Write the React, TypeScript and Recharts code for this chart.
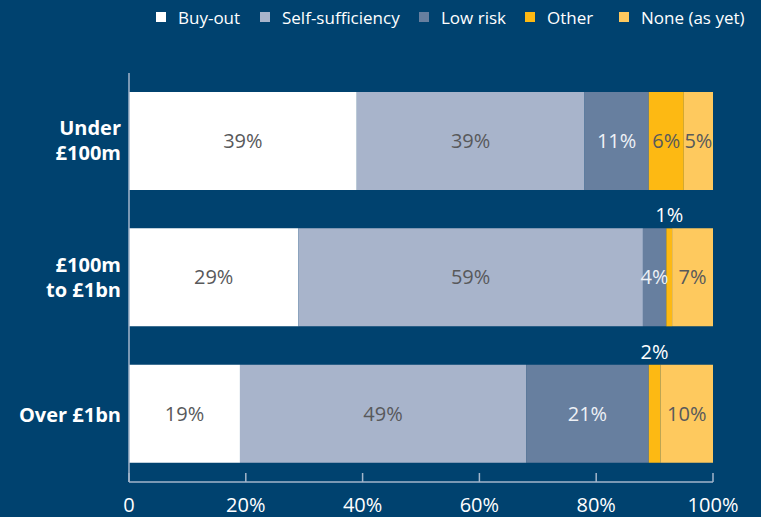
import React from "react";
import { BarChart, Bar, XAxis, YAxis, LabelList } from "recharts";

const categories = ["Under £100m", "£100m to £1bn", "Over £1bn"];
const categoryLines = [["Under", "£100m"], ["£100m", "to £1bn"], ["Over £1bn"]];
const seriesNames = ["Buy-out", "Self-sufficiency", "Low risk", "Other", "None (as yet)"];
const buyOut = [39, 29, 19];
const selfSufficiency = [39, 59, 49];
const lowRisk = [11, 4, 21];
const other = [6, 1, 2];
const noneYet = [5, 7, 10];
const xTicks = [0, 20, 40, 60, 80, 100];

const keys = ["buyOut", "selfSufficiency", "lowRisk", "other", "noneYet"];
const colors = ["#ffffff", "#a8b4cb", "#677f9f", "#fdb913", "#fec95e"];
const labelColors = ["#58595b", "#58595b", "#eef1f6", "#58595b", "#58595b"];

const data = categories.map((name, i) => ({
  name,
  buyOut: buyOut[i],
  selfSufficiency: selfSufficiency[i],
  lowRisk: lowRisk[i],
  other: other[i],
  noneYet: noneYet[i],
}));

const BG = "#00426f";
const AXIS = "#a3b6cb";
const FONT = "'Open Sans', sans-serif";

const makeLabel = (seriesIdx: number) => (props: any) => {
  const { x, y, width, height, value, index } = props;
  if (value == null) return null;
  const cx = Number(x) + Number(width) / 2;
  const isOtherSmall = seriesIdx === 3 && index > 0;
  if (isOtherSmall) {
    return (
      <text x={cx} y={Number(y) - 6} textAnchor="middle" fill="#ffffff" fontSize={20} fontFamily={FONT}>
        {value}%
      </text>
    );
  }
  return (
    <text
      x={cx}
      y={Number(y) + Number(height) / 2 + 7}
      textAnchor="middle"
      fill={labelColors[seriesIdx]}
      fontSize={20}
      fontFamily={FONT}
    >
      {value}%
    </text>
  );
};

const YTick = (props: any) => {
  const { x, y, index } = props;
  const lines = categoryLines[index] || [String(props.payload?.value)];
  const startDy = lines.length === 1 ? 8 : -6;
  return (
    <text x={x} y={y} textAnchor="end" fill="#ffffff" fontSize={20} fontWeight={700} fontFamily={FONT}>
      {lines.map((l, i) => (
        <tspan key={i} x={x} y={y + startDy + i * 25}>
          {l}
        </tspan>
      ))}
    </text>
  );
};

const legendX = [156, 260, 419, 525, 619];

export default function App() {
  return (
    <div style={{ position: "fixed", left: 0, top: 0, width: 761, height: 517, background: BG, overflow: "hidden" }}>
      {seriesNames.map((n, i) => (
        <div
          key={n}
          style={{
            position: "absolute",
            left: legendX[i],
            top: 4,
            height: 26,
            display: "flex",
            alignItems: "center",
            fontFamily: FONT,
            fontSize: 17,
            color: "#ffffff",
            whiteSpace: "nowrap",
          }}
        >
          <span style={{ display: "inline-block", width: 10, height: 10, background: colors[i], marginRight: 12 }} />
          <span>{n}</span>
        </div>
      ))}
      <div style={{ position: "absolute", left: 0, top: 0 }}>
        <BarChart
          width={761}
          height={517}
          data={data}
          layout="vertical"
          margin={{ top: 73, right: 48, bottom: 5, left: 9 }}
        >
          <XAxis
            type="number"
            domain={[0, 100]}
            ticks={xTicks}
            allowDataOverflow
            height={30}
            tickFormatter={(v: number) => (v === 0 ? "0" : `${v}%`)}
            tick={{ fill: "#ffffff", fontSize: 20, fontFamily: FONT }}
            tickSize={-9}
            tickMargin={25}
            axisLine={{ stroke: AXIS, strokeWidth: 1.5 }}
            tickLine={{ stroke: AXIS, strokeWidth: 1.5 }}
            interval={0}
          />
          <YAxis
            type="category"
            dataKey="name"
            width={120}
            tick={<YTick />}
            tickLine={false}
            axisLine={{ stroke: AXIS, strokeWidth: 1.5 }}
            tickSize={6}
            tickMargin={2}
          />
          {keys.map((k, i) => (
            <Bar key={k} dataKey={k} stackId="a" fill={colors[i]} barSize={98} isAnimationActive={false}>
              <LabelList dataKey={k} content={makeLabel(i)} />
            </Bar>
          ))}
        </BarChart>
      </div>
    </div>
  );
}
